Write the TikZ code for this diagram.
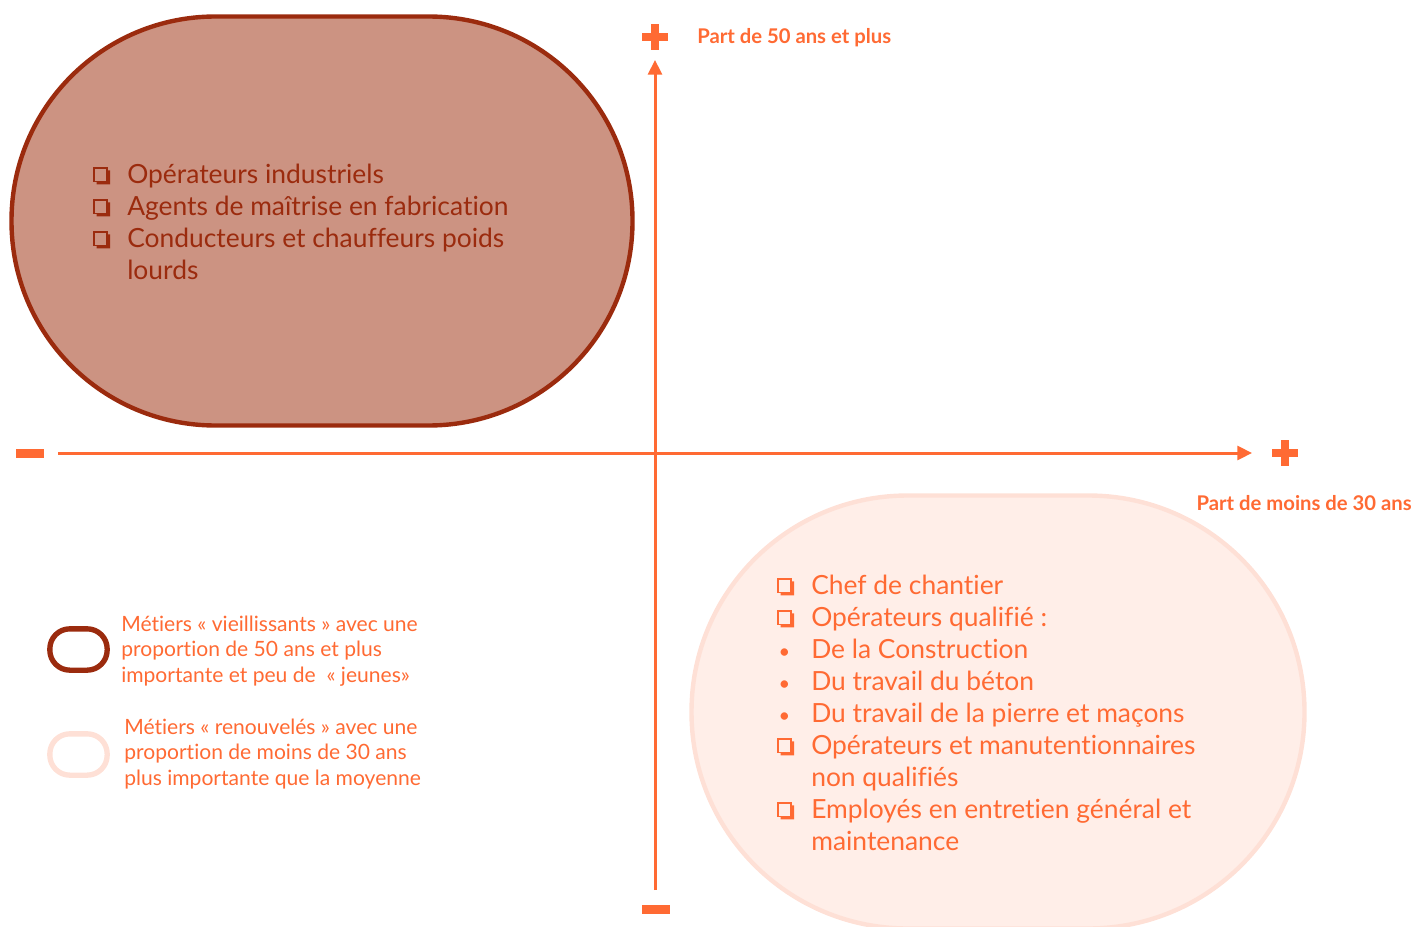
\documentclass[tikz,border=0pt]{standalone}
\usepackage{fontspec}
\setmainfont{Lato}[Ligatures=NoCommon]
\usepackage{tikz}
\usetikzlibrary{arrows.meta, positioning, shapes}
\definecolor{axeorange}{HTML}{FF6A33}
\definecolor{brique}{HTML}{9B2B0E}
\definecolor{rosefonce}{HTML}{CC9382}
\definecolor{rosepale}{HTML}{FFEEE8}
\definecolor{roseborde}{HTML}{FEE0D6}
\tikzset{
        axis/.style={line width=2.25pt, draw=axeorange, -{Triangle[length=11pt,width=10.5pt]}}, % axes with arrow
        oldbox/.style={draw=brique, line width=3.3pt, fill=rosefonce, rounded corners=153pt},
        youngbox/.style={draw=roseborde, line width=3.3pt, fill=rosepale, rounded corners=162pt},
        liste/.style={inner sep=0pt, align=left, anchor=west, font=\fontsize{19.8}{24}\selectfont},
        legende/.style={inner sep=0pt, align=left, anchor=west, text=axeorange, font=\fontsize{15.8}{19}\selectfont},
        axelabel/.style={inner sep=0pt, text=axeorange, font=\bfseries\fontsize{15.2}{18}\selectfont},
        ring/.style={rectangle, rounded corners=15pt, line width=4pt, minimum width=43pt, minimum height=31pt},
    }
% square with a drop shadow, in the colour of the text
\newcommand{\cb}{\makebox[25.5pt][l]{\tikz[baseline=0pt, x=1pt, y=1pt]{%
    \fill (10.5,10) -- (12.6,10) -- (12.6,-0.6) -- (2.5,-0.6) -- (2.5,1.5) -- (10.5,1.5) -- cycle;
    \draw[line width=1.3pt] (0.6,1.5) rectangle (10.5,11.8);}}}
\newcommand{\puce}{\makebox[25.5pt][l]{\hspace{1pt}\fontsize{15}{15}\selectfont•}}
\newcommand{\retrait}{\hspace*{25.5pt}}

\begin{document}
\begin{tikzpicture}[x=0.75pt, y=-0.75pt]
    \useasboundingbox (0,0) rectangle (1416,927);
    \clip (0,0) rectangle (1416,927);

    % the two groups of jobs
    \node[oldbox, minimum width=465.75pt, minimum height=306.75pt] (vieux) at (322,221) {};
    \node[youngbox, minimum width=459.75pt, minimum height=324.75pt] (jeunes) at (998,712) {};

    % axes
    \coordinate (gauche) at (58,453);
    \coordinate (droite) at (1252,453);
    \coordinate (bas) at (655,890);
    \coordinate (haut) at (655,60);
    \draw[axis] (gauche) -- (droite);
    \draw[axis] (bas) -- (haut);

    % signs
    \fill[axeorange] (642,33) rectangle (668,41);
    \fill[axeorange] (651,24) rectangle (659,50);
    \fill[axeorange] (1272,449) rectangle (1298,457);
    \fill[axeorange] (1281,440) rectangle (1289,466);
    \fill[axeorange] (16,449) rectangle (44,458);
    \fill[axeorange] (642,905) rectangle (670,914);

    \node[axelabel, anchor=west] (ly) at (697,38) {Part de 50 ans et plus};
    \node[axelabel, anchor=east] (lx) at (1412,503) {Part de moins de 30 ans};

    % lists
    \node[liste, text=brique] (listevieux) at (93,222) {%
        \cb Opérateurs industriels\\
        \cb Agents de maîtrise en fabrication\\
        \cb Conducteurs et chauffeurs poids\\
        \retrait lourds};
    \node[liste, text=axeorange] (listejeunes) at (777,713) {%
        \cb Chef de chantier\\
        \cb Opérateurs qualifié :\\
        \puce De la Construction\\
        \puce Du travail du béton\\
        \puce Du travail de la pierre et maçons\\
        \cb Opérateurs et manutentionnaires\\
        \retrait non qualifiés\\
        \cb Employés en entretien général et\\
        \retrait maintenance};

    % legend
    \node[ring, draw=brique] (ring1) at (78.5,649.5) {};
    \node[ring, draw=roseborde] (ring2) at (78.5,754.5) {};
    \node[legende] (leg1) at (121,651) {Métiers « vieillissants » avec une\\
        proportion de 50 ans et plus\\
        importante et peu de ~« jeunes»};
    \node[legende] (leg2) at (124,754) {Métiers « renouvelés » avec une\\
        proportion de moins de 30 ans\\
        plus importante que la moyenne};
\end{tikzpicture}
\end{document}
